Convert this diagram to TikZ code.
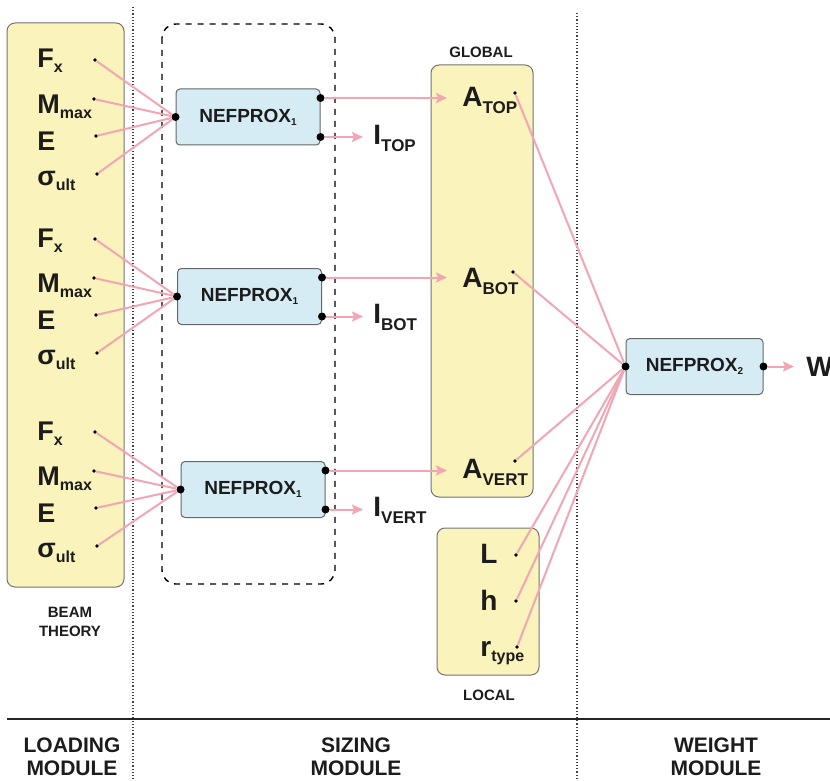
\documentclass[tikz,border=0pt]{standalone}
\usepackage{fontspec}
\setmainfont{Liberation Sans}
\usetikzlibrary{arrows.meta,positioning}
\definecolor{beamfill}{HTML}{FAF3BC}
\definecolor{proxfill}{HTML}{D6ECF4}
\definecolor{wirepink}{HTML}{F2A6B3}
\definecolor{ink}{HTML}{1C1C1C}
\newcommand{\subs}[1]{\raisebox{-2.5pt}{\fontsize{8}{8}\selectfont #1}}
\newcommand{\subc}[1]{\raisebox{-3.5pt}{\fontsize{8.5}{9}\selectfont #1}}
\newcommand{\subn}[1]{\raisebox{-1.5pt}{\fontsize{5}{5}\selectfont #1}}
\tikzset{
  panel/.style={
    draw=black!55,
    fill=beamfill,
    rounded corners=4pt,
    line width=0.5pt,
  },
  nefprox/.style={
    draw=black!60,
    fill=proxfill,
    rounded corners=2pt,
    line width=0.5pt,
    minimum width=72pt,
    minimum height=28pt,
    inner sep=0pt,
    text=ink,
    font=\fontsize{9.5}{10}\selectfont\bfseries,
  },
  sym/.style={
    inner sep=0pt,
    anchor=base west,
    text=ink,
    font=\fontsize{13.5}{14}\selectfont\bfseries,
  },
  bigsym/.style={
    sym,
    font=\fontsize{14}{15}\selectfont\bfseries,
  },
  tag/.style={
    inner sep=0pt,
    align=center,
    text=ink,
    font=\fontsize{7.5}{9.5}\selectfont\bfseries,
  },
  module/.style={
    inner sep=0pt,
    align=center,
    text=ink,
    font=\fontsize{10.5}{11.5}\selectfont\bfseries,
  },
  pin/.style={circle, fill=black, inner sep=0pt, minimum size=1.8pt},
  port/.style={circle, fill=black, inner sep=0pt, minimum size=4pt},
  divider/.style={densely dotted, line width=0.6pt, black!75},
  wire/.style={draw=wirepink, line width=1pt},
  feed/.style={
    wire,
    -{Stealth[length=5.5pt,width=5pt,inset=1pt]},
  },
}

\begin{document}
\begin{tikzpicture}[x=0.5pt, y=-0.5pt]
  \useasboundingbox (0,0) rectangle (830,781);

  % Frames
  \draw[panel] (7,23) rectangle (124,587);
  \draw[dashed, line width=0.7pt, rounded corners=7pt] (162,24) rectangle (335,584);
  \draw[panel] (431,65) rectangle (533,497);
  \draw[panel] (437,528) rectangle (539,675);
  \draw[divider] (133,7) -- (133,781);
  \draw[divider] (577,13) -- (577,781);
  \draw[line width=0.8pt, black!85] (7,719) -- (830,719);

  % Loading module inputs
  \foreach \g/\dy in {1/0, 2/179, 3/372} {
    \node[sym] (fx\g) at (37,68+\dy) {F\subs{x}};
    \node[sym] (mm\g) at (37,113+\dy) {M\subs{max}};
    \node[sym] (ee\g) at (37,150+\dy) {E};
    \node[sym] (su\g) at (37,185+\dy) {σ\subs{ult}};
    \node[pin] (fx\g d) at (95,60+\dy) {};
    \node[pin] (mm\g d) at (94,99+\dy) {};
    \node[pin] (ee\g d) at (96,136+\dy) {};
    \node[pin] (su\g d) at (97,174+\dy) {};
  }
  \node[tag] (beam) at (70,622) {BEAM\\THEORY};

  % Sizing module
  \node[nefprox] (nef1) at (248,117) {NEFPROX\subn{1}};
  \node[nefprox] (nef2) at (249.5,296.5) {NEFPROX\subn{1}};
  \node[nefprox] (nef3) at (253,489.5) {NEFPROX\subn{1}};
  \foreach \g in {1,2,3} {
    \node[port] (in\g) at (nef\g.west) {};
    \node[port] (top\g) at ([yshift=9.5pt]nef\g.east) {};
    \node[port] (bot\g) at ([yshift=-10pt]nef\g.east) {};
    \foreach \s in {fx,mm,ee,su}
      \draw[wire] (\s\g d) -- (in\g);
  }

  \node[bigsym] (itop) at (373,145) {I\subc{TOP}};
  \node[bigsym] (ibot) at (373,323) {I\subc{BOT}};
  \node[bigsym] (ivert) at (373,516) {I\subc{VERT}};

  \node[bigsym] (atop) at (462,107) {A\subc{TOP}};
  \node[bigsym] (abot) at (462,287) {A\subc{BOT}};
  \node[bigsym] (avert) at (462,478) {A\subc{VERT}};
  \node[tag] (global) at (481,52) {GLOBAL};

  \node[bigsym] (len) at (480,563) {L};
  \node[bigsym] (hgt) at (480,610) {h};
  \node[bigsym] (rty) at (480,656) {r\subs{type}};
  \node[tag] (local) at (489,695) {LOCAL};

  \draw[feed, shorten >=7.5pt] (top1) -- (top1 -| atop.west);
  \draw[feed, shorten >=7.5pt] (top2) -- (top2 -| abot.west);
  \draw[feed, shorten >=7.5pt] (top3) -- (top3 -| avert.west);
  \draw[feed, shorten >=5pt] (bot1) -- (bot1 -| itop.west);
  \draw[feed, shorten >=5pt] (bot2) -- (bot2 -| ibot.west);
  \draw[feed, shorten >=5pt] (bot3) -- (bot3 -| ivert.west);

  % Weight module
  \node[nefprox, minimum width=68.5pt] (nef4) at (694.5,366.5) {NEFPROX\subn{2}};
  \node[port] (in4) at (nef4.west) {};
  \node[port] (out4) at (nef4.east) {};
  \node[bigsym] (wgt) at (806,376) {W};

  \node[pin] (atopd) at (515,93) {};
  \node[pin] (abotd) at (513,272) {};
  \node[pin] (avertd) at (515,461) {};
  \node[pin] (lend) at (516,555) {};
  \node[pin] (hgtd) at (516,601) {};
  \node[pin] (rtyd) at (517,647) {};
  \foreach \s in {atopd,abotd,avertd,lend,hgtd,rtyd}
    \draw[wire] (\s) -- (in4);
  \draw[feed, shorten >=6pt] (out4) -- (out4 -| wgt.west);

  % Module captions
  \node[module] (loading) at (72,757) {LOADING\\MODULE};
  \node[module] (sizing) at (356,757) {SIZING\\MODULE};
  \node[module] (weight) at (716,757) {WEIGHT\\MODULE};
\end{tikzpicture}
\end{document}
